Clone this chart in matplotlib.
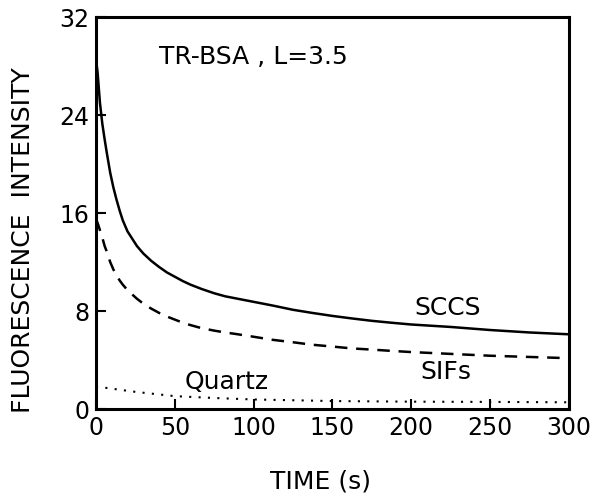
import numpy as np
import matplotlib
matplotlib.use("Agg")
import matplotlib.pyplot as plt

# values
t = [0, 1, 2.5, 4, 5.5, 7, 9, 11, 13, 15, 17, 20, 23, 26, 30, 35, 40, 45,
     50, 55, 60, 67, 75, 82, 90, 100, 112, 125, 137, 150, 162, 175, 187,
     200, 225, 250, 275, 300]
sccs = [28.5, 27.5, 25.0, 23.3, 22.0, 20.8, 19.3, 18.1, 17.1, 16.2, 15.4,
        14.5, 13.9, 13.3, 12.7, 12.1, 11.6, 11.15, 10.8, 10.45, 10.15, 9.8,
        9.45, 9.2, 9.0, 8.75, 8.45, 8.1, 7.85, 7.6, 7.4, 7.2, 7.05, 6.9,
        6.7, 6.45, 6.25, 6.1]
sifs = [15.5, 15.2, 14.6, 14.0, 13.3, 12.8, 12.0, 11.4, 10.9, 10.5, 10.15,
        9.7, 9.35, 9.0, 8.6, 8.2, 7.85, 7.55, 7.3, 7.05, 6.85, 6.6, 6.4,
        6.25, 6.1, 5.9, 5.65, 5.45, 5.25, 5.1, 4.95, 4.85, 4.75, 4.65,
        4.5, 4.35, 4.25, 4.15]
t_q = [0, 5, 25, 50, 75, 100, 150, 200, 250, 300]
quartz = [1.8, 1.75, 1.4, 1.05, 0.9, 0.78, 0.65, 0.6, 0.58, 0.55]

xticks = [0, 50, 100, 150, 200, 250, 300]
yticks = [0, 8, 16, 24, 32]

plt.rcParams['font.family'] = 'DejaVu Sans'
fig = plt.figure(figsize=(6, 5.01), dpi=100)
ax = fig.add_axes([0.16, 0.1836, 0.788, 0.7824])

ax.plot(t, sccs, color='black', lw=1.8, linestyle='-')
ax.plot(t, sifs, color='black', lw=1.8, linestyle=(0, (5, 3.5)))
ax.plot(t_q, quartz, color='black', lw=1.5, linestyle=(0, (1, 3.5)))

ax.set_xlim(0, 300)
ax.set_ylim(0, 32)
ax.set_xticks(xticks)
ax.set_yticks(yticks)
ax.tick_params(direction='in', length=7, width=1.5, labelsize=17, pad=5)
for s in ax.spines.values():
    s.set_linewidth(2.2)

ax.text(40, 28.7, 'TR-BSA , L=3.5', fontsize=18, va='center')
ax.text(202, 8.25, 'SCCS', fontsize=18, va='center')
ax.text(206, 3.0, 'SIFs', fontsize=18, va='center')
ax.text(56, 2.2, 'Quartz', fontsize=18, va='center')

ax.set_xlabel('TIME (s)', fontsize=18)
ax.xaxis.set_label_coords(0.474, -0.155)
ax.set_ylabel('FLUORESCENCE  INTENSITY', fontsize=18)
ax.yaxis.set_label_coords(-0.13, 0.43)

fig.savefig('out.png', dpi=100)
